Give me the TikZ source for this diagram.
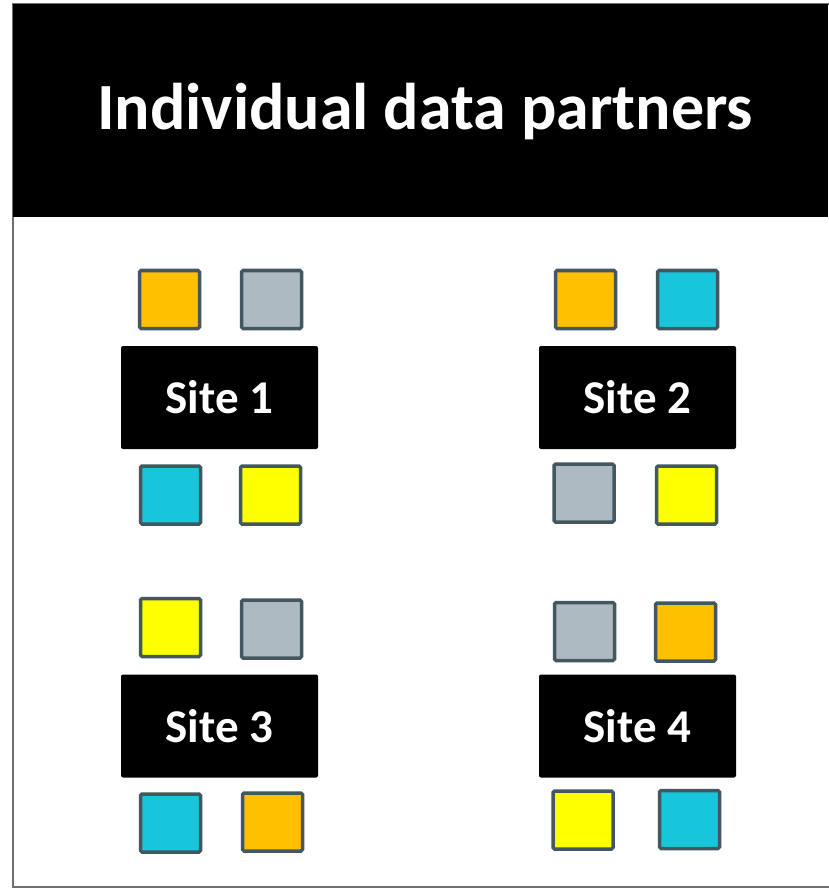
\documentclass[tikz,border=0pt]{standalone}
\usepackage{fontspec}
\setmainfont{Carlito}
\definecolor{sqorange}{HTML}{FFC000}
\definecolor{sqgray}{HTML}{ADBAC1}
\definecolor{sqcyan}{HTML}{17C6DB}
\definecolor{sqyellow}{HTML}{FFFF00}
\definecolor{sqedge}{HTML}{435761}
\definecolor{frameline}{HTML}{6F6F6F}
\tikzset{
  px/.style={x=1pt,y=-1pt},
  tile/.style={draw=sqedge,line width=3.5pt,rounded corners=1.5pt,minimum width=60pt,minimum height=58pt,inner sep=0pt},
  sitebox/.style={fill=black,rounded corners=2pt,minimum width=197pt,minimum height=103pt,inner sep=0pt,
    text=white,font=\bfseries\fontsize{47}{50}\selectfont},
}
\begin{document}
\begin{tikzpicture}[px]
\useasboundingbox (0,0) rectangle (828,890);
\fill[white] (0,0) rectangle (828,890);
% outer frame and header band
\draw[frameline,line width=2pt] (840,4) -- (13,4) -- (13,887) -- (840,887);
\fill[black] (13,4) rectangle (828,217);
\node[text=white,font=\bfseries\fontsize{66}{70}\selectfont] (title) at (425,112) {Individual data partners};
% sites
\node[sitebox] (s1) at (219.5,397.5) {Site 1};
\node[sitebox] (s2) at (637.5,397.5) {Site 2};
\node[sitebox] (s3) at (219.5,726) {Site 3};
\node[sitebox] (s4) at (637.5,726) {Site 4};
% tiles around Site 1
\node[tile,fill=sqorange] (s1a) at (169.5,299.5) {};
\node[tile,fill=sqgray]   (s1b) at (271.5,299.5) {};
\node[tile,fill=sqcyan]   (s1c) at (170.5,495) {};
\node[tile,fill=sqyellow] (s1d) at (270.5,495) {};
% tiles around Site 2
\node[tile,fill=sqorange] (s2a) at (585.5,299.5) {};
\node[tile,fill=sqcyan]   (s2b) at (687.5,299.5) {};
\node[tile,fill=sqgray]   (s2c) at (584,493) {};
\node[tile,fill=sqyellow] (s2d) at (686.5,495) {};
% tiles around Site 3
\node[tile,fill=sqyellow] (s3a) at (170.5,627.5) {};
\node[tile,fill=sqgray]   (s3b) at (271.5,629) {};
\node[tile,fill=sqcyan]   (s3c) at (170.5,823) {};
\node[tile,fill=sqorange] (s3d) at (272.5,822) {};
% tiles around Site 4
\node[tile,fill=sqgray]   (s4a) at (584.5,631.5) {};
\node[tile,fill=sqorange] (s4b) at (685.5,632) {};
\node[tile,fill=sqyellow] (s4c) at (583,820) {};
\node[tile,fill=sqcyan]   (s4d) at (689.5,819.5) {};
\end{tikzpicture}
\end{document}
